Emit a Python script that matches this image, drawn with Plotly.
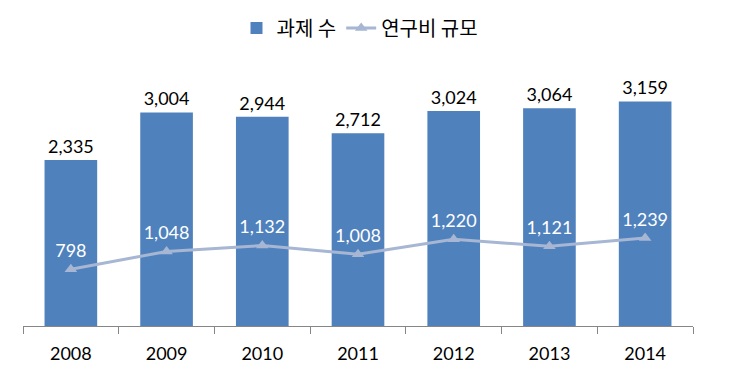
import plotly.graph_objects as go

years = ["2008", "2009", "2010", "2011", "2012", "2013", "2014"]
tasks = [2335, 3004, 2944, 2712, 3024, 3064, 3159]
funding = [798, 1048, 1132, 1008, 1220, 1121, 1239]

NUM_FONT = "Lato, Liberation Sans"
W, H = 718, 362  # page body has an 8px margin

fig = go.Figure()
fig.add_trace(go.Bar(
    x=years, y=tasks, name="과제 수",
    marker=dict(color="#4F81BD", line=dict(width=0)),
    width=0.55,
    text=[f"{v:,}" for v in tasks], textposition="outside",
    textfont=dict(family=NUM_FONT, size=18, color="#000000"),
    cliponaxis=False,
))
fig.add_trace(go.Scatter(
    x=years, y=funding, name="연구비 규모", mode="lines+markers+text",
    line=dict(color="#A6B6D3", width=3),
    marker=dict(symbol="triangle-up", size=11, color="#A6B6D3"),
    text=[f"{v:,}" for v in funding], textposition="top center",
    textfont=dict(family=NUM_FONT, size=18, color="#FFFFFF"),
    cliponaxis=False,
))

fig.update_layout(
    width=W, height=H,
    margin=dict(l=15, r=33, t=52, b=44, autoexpand=False),
    paper_bgcolor="white", plot_bgcolor="white",
    showlegend=True,
    legend=dict(orientation="h", x=352 / W, xref="container", xanchor="center",
                y=1 - 20 / H, yref="container", yanchor="middle",
                font=dict(family="Noto Sans CJK KR", size=20, color="#000000"),
                itemwidth=30, tracegroupgap=0, traceorder="normal"),
    xaxis=dict(type="category", showline=True, linecolor="#868686", linewidth=1,
               ticks="outside", tickson="boundaries", ticklen=7, tickcolor="#868686",
               ticklabelstandoff=11,
               tickfont=dict(family=NUM_FONT, size=18, color="#000000"),
               showgrid=False, zeroline=False),
    yaxis=dict(range=[0, 3741], visible=False, showgrid=False, zeroline=False),
)

fig.write_html("out.html")
